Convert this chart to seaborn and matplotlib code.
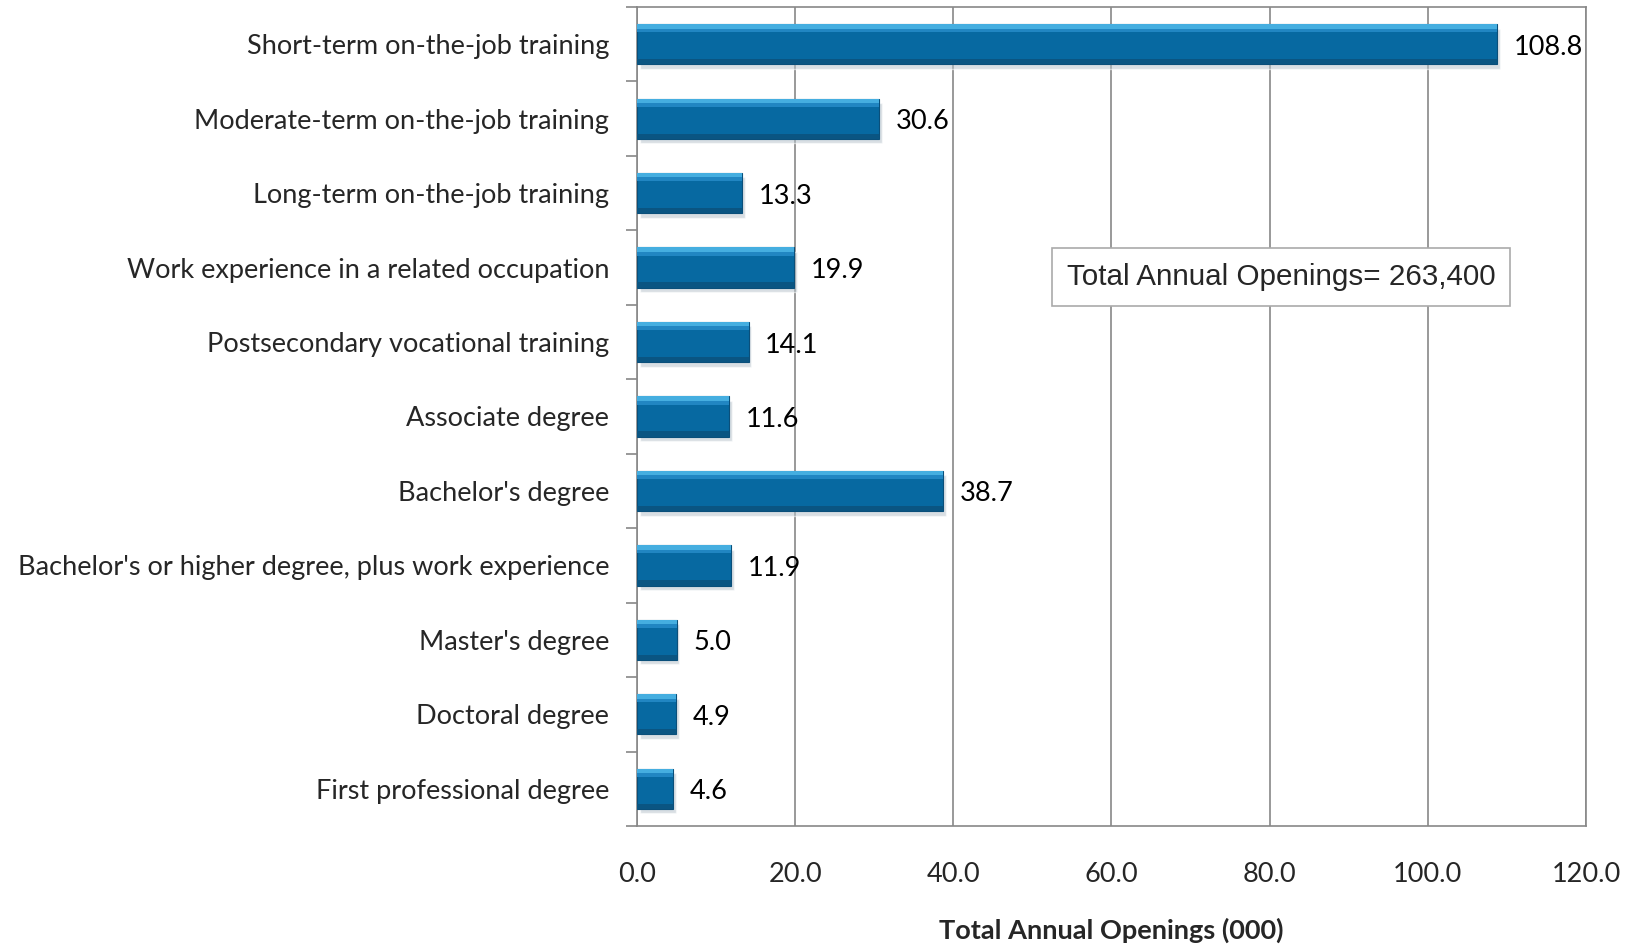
import matplotlib
matplotlib.use("Agg")
import matplotlib.pyplot as plt
import seaborn as sns
import pandas as pd
import numpy as np

categories = [
    "Short-term on-the-job training",
    "Moderate-term on-the-job training",
    "Long-term on-the-job training",
    "Work experience in a related occupation",
    "Postsecondary vocational training",
    "Associate degree",
    "Bachelor's degree",
    "Bachelor's or higher degree, plus work experience",
    "Master's degree",
    "Doctoral degree",
    "First professional degree",
]
values = [108.8, 30.6, 13.3, 19.9, 14.1, 11.6, 38.7, 11.9, 5.0, 4.9, 4.6]
xticks = [0, 20, 40, 60, 80, 100, 120]
xlabel = "Total Annual Openings (000)"
annotation = "Total Annual Openings= 263,400"

df = pd.DataFrame({"cat": categories, "val": values})

sns.set_theme(style="white")
plt.rcParams["font.family"] = ["Lato", "DejaVu Sans"]

FS = 19.5

fig = plt.figure(figsize=(16.36, 9.44), dpi=100)
ax = fig.add_axes([0.3894, 0.125, 0.58, 0.8676])

bar_w = 0.54
y = np.arange(len(categories))

# drop shadow
ax.barh(y + 0.06, values, height=bar_w, left=0.35, color="#b8c4cc", alpha=0.55, zorder=2)
sns.barplot(data=df, y="cat", x="val", orient="h", color="#0769a1", saturation=1,
            width=bar_w, ax=ax, zorder=3, edgecolor="#0a4f7a", linewidth=0.8)
# bevel highlight on top and darker bottom edge
ax.barh(y - bar_w / 2 + 0.03, values, height=0.06, color="#45aee0", zorder=4, linewidth=0)
ax.barh(y - bar_w / 2 + 0.085, values, height=0.05, color="#2186c2", zorder=4, linewidth=0)
ax.barh(y + bar_w / 2 - 0.035, values, height=0.07, color="#0a5582", zorder=4, linewidth=0)

for yi, v in zip(y, values):
    ax.text(v + 2.1, yi + 0.04, f"{v:.1f}", va="center", ha="left", fontsize=FS, color="black", zorder=5)

ax.set_xlim(0, 120)
ax.set_ylim(len(categories) - 0.5, -0.5)
ax.set_xticks(xticks)
ax.set_xticklabels([f"{t:.1f}" for t in xticks], fontsize=FS)
ax.set_yticks(y)
ax.set_yticklabels(categories, fontsize=FS)
ax.tick_params(axis="y", length=0, pad=20)
ax.tick_params(axis="x", length=0, pad=26)
ax.set_yticks(np.arange(-0.5, len(categories), 1), minor=True)
ax.tick_params(axis="y", which="minor", length=8, width=1.2, color="#888888", left=True)
ax.set_xticks(xticks, minor=True)
ax.tick_params(axis="x", which="minor", length=8, width=1.2, color="#888888", bottom=True)

ax.grid(axis="x", color="#888888", linewidth=1.2, zorder=0)
ax.set_axisbelow(True)
for s in ax.spines.values():
    s.set_visible(True)
    s.set_color("#888888")
    s.set_linewidth(1.2)

ax.set_ylabel("")
ax.set_xlabel(xlabel, fontsize=FS, fontweight="bold", labelpad=22)

ax.text(0.679, 0.670, annotation, transform=ax.transAxes, ha="center", va="center",
        fontsize=21.3, family="Liberation Sans", zorder=6,
        bbox=dict(boxstyle="square,pad=0.5", facecolor="white", edgecolor="#aaaaaa", linewidth=1.2))

fig.savefig("out.png", dpi=100)
